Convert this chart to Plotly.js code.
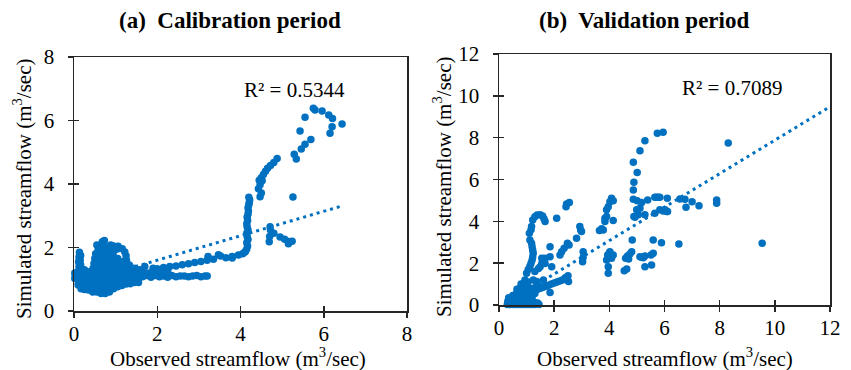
<!DOCTYPE html>
<html><head><meta charset="utf-8">
<script src="https://cdn.plot.ly/plotly-3.0.1.min.js"></script>
<style>body{margin:0;background:#fff}#chart{width:851px;height:370px}</style>
</head><body><div id="chart"></div>
<script>
// ---------- DATA ----------
const panelTitles = ['(a)\u00a0 Calibration period', '(b)\u00a0 Validation period'];
const xAxisTitle = 'Observed streamflow (m<sup>3</sup>/sec)';
const yAxisTitle = 'Simulated streamflow (m<sup>3</sup>/sec)';
const calTicks = [0, 2, 4, 6, 8];
const valTicks = [0, 2, 4, 6, 8, 10, 12];
const calR2 = 'R² = 0.5344';
const valR2 = 'R² = 0.7089';
const calSlope = 0.385, calIntercept = 0.83;
const valSlope = 0.80, valIntercept = -0.12;
const valTrendEnd = 12;

const calObserved = [
 0.02,0.03,0.02,
 0.1,0.11,0.09,0.1,0.12,0.11,0.12,0.13,
 0.17,0.16,0.18,0.15,0.17,0.16,0.15,0.16,
 0.25,0.26,0.24,0.27,0.25,
 0.35,0.36,0.34,0.35,0.37,
 0.45,0.46,0.44,0.45,0.47,0.46,0.48,0.5,0.52,
 0.55,0.56,0.54,0.55,0.57,0.56,0.55,0.56,0.57,0.58,0.55,
 0.65,0.66,0.64,0.65,0.67,0.66,0.65,0.64,0.66,0.65,0.67,0.68,
 0.75,0.76,0.74,0.75,0.77,0.76,0.75,0.74,0.76,0.75,0.72,0.73,
 0.85,0.86,0.84,0.85,0.87,0.86,0.85,0.84,0.86,0.85,0.88,
 0.95,0.96,0.94,0.95,0.97,0.96,0.95,0.94,0.96,0.95,
 1.05,1.06,1.04,1.05,1.07,1.06,1.05,1.04,1.06,
 1.15,1.16,1.14,1.15,1.17,1.16,1.16,
 1.25,1.26,1.24,1.25,1.27,1.26,1.25,1.22,
 1.35,1.36,1.34,1.35,1.33,
 1.45,1.46,1.44,1.45,
 1.55,1.56,1.54,1.58,
 1.65,1.75,1.85,1.95,2.05,2.15,2.25,2.35,2.45,2.55,2.65,2.75,2.85,2.95,3.05,3.15,3.2,
 1.65,1.8,1.95,2.1,2.25,1.7,1.9,
 2.0,2.15,2.3,2.45,2.6,2.75,2.9,3.05,3.2,3.22,3.35,3.47,3.52,3.65,3.8,3.8,3.95,4.05,4.1,
 4.12,4.15,4.17,4.15,4.18,4.16,4.15,4.18,4.16,4.15,4.17,4.16,4.18,4.19,4.18,4.2,4.21,4.22,4.2,
 4.47,4.5,4.43,4.47,4.52,4.45,4.5,4.55,4.6,4.65,4.72,4.8,4.88,
 5.26,
 4.71,4.69,4.72,4.8,4.95,5.06,5.17,5.15,5.24,4.7,
 5.29,5.34,5.46,5.55,5.69,5.43,5.55,5.79,5.75,5.96,6.12,6.21,6.44,6.2,6.15
];
const calSimulated = [
 1.02,1.12,1.2,
 0.82,0.95,1.08,1.25,1.4,1.55,1.7,1.85,
 0.7,0.84,1.0,1.15,1.3,1.45,1.6,1.75,
 0.68,0.85,1.0,1.14,1.3,
 0.66,0.8,0.96,1.1,1.24,
 0.6,0.75,0.9,1.05,1.2,1.35,1.5,1.65,1.8,
 0.6,0.74,0.9,1.05,1.2,1.35,1.5,1.65,1.8,1.95,2.08,
 0.55,0.7,0.85,1.0,1.15,1.3,1.45,1.6,1.75,1.9,2.05,2.18,
 0.55,0.7,0.85,1.0,1.15,1.3,1.45,1.6,1.75,1.9,2.05,2.22,
 0.6,0.75,0.9,1.05,1.2,1.35,1.5,1.65,1.8,1.95,2.08,
 0.7,0.85,1.0,1.15,1.3,1.45,1.6,1.75,1.9,2.05,
 0.76,0.9,1.05,1.2,1.35,1.5,1.65,1.95,2.04,
 0.8,0.95,1.1,1.25,1.4,1.55,1.96,
 0.85,1.0,1.15,1.3,1.45,1.6,1.74,1.86,
 0.86,1.0,1.15,1.3,1.45,
 0.9,1.05,1.2,1.35,
 0.9,1.05,1.2,1.3,
 1.08,1.12,1.06,1.12,1.08,1.1,1.06,1.12,1.08,1.1,1.1,1.08,1.1,1.12,1.08,1.1,1.1,
 1.25,1.2,1.22,1.25,1.28,1.4,1.35,
 1.33,1.37,1.4,1.42,1.46,1.49,1.53,1.56,1.6,1.72,1.63,1.77,1.73,1.68,1.72,1.67,1.76,1.8,1.85,
 1.88,1.95,2.05,2.15,2.25,2.35,2.45,2.55,2.65,2.75,2.85,2.95,3.05,3.15,3.25,3.35,3.42,3.5,3.58,
 3.6,3.72,3.85,3.98,4.1,4.12,4.2,4.3,4.4,4.5,4.58,4.68,4.8,
 3.59,
 2.65,2.18,2.55,2.45,2.33,2.26,2.19,2.12,2.2,2.35,
 4.94,4.79,5.1,5.25,5.4,5.67,6.1,6.33,6.39,6.3,6.17,6.06,5.89,5.8,5.6
];

const valObserved = [
 0.3,0.35,0.4,0.45,0.5,0.55,0.6,0.65,0.7,0.75,0.8,0.85,0.9,0.95,1.0,1.05,1.1,1.15,1.2,1.25,1.3,1.35,1.4,1.45,
 0.32,0.4,0.5,0.6,0.7,0.8,0.9,1.0,1.1,1.2,1.3,1.4,
 0.35,0.45,0.55,0.65,0.75,0.85,0.95,1.05,
 0.5,0.6,0.7,0.8,0.9,0.65,0.75,0.85,0.95,0.8,0.9,1.0,1.1,
 1.0,1.1,1.2,1.3,1.15,1.25,1.35,1.05,
 0.94,1.0,1.06,1.12,1.16,1.2,1.22,1.24,1.22,1.2,1.18,1.12,1.1,1.16,1.18,1.22,1.3,1.38,1.49,1.58,1.63,1.67,
 1.3,1.4,1.5,1.6,1.7,1.8,1.9,2.0,2.1,2.2,2.3,2.4,2.5,2.52,2.45,1.85,1.49,1.24,1.61,1.37,
 1.43,1.49,1.55,1.67,1.55,1.67,1.85,1.85,1.91,2.09,2.21,2.27,2.36,2.48,2.54,2.81,2.93,2.99,2.96,3.05,3.05,3.03,2.43,2.45,2.55,1.3,
 3.64,3.78,3.72,3.84,3.84,3.9,3.9,3.96,4.08,4.14,4.02,4.14,3.9,3.96,3.96,4.02,4.08,4.14,3.94,4.0,
 4.54,4.63,4.59,4.66,4.81,4.83,5.11,5.23,5.29,5.51,5.59,5.29,5.53,5.59,5.89,6.52,9.54,4.75,5.17,4.7,
 5.95,5.74,5.29,5.11,8.31,4.87,5.01,4.89,4.87,4.87,5.01,5.17,5.39,5.65,5.77,6.1,6.56,6.74,7.0,7.25,7.89,7.89,6.78,4.99,5.11,4.89,5.29,5.65,5.83,5.95,6.11,5.05,4.93,6.02,5.71,5.83,6.08
];
const valSimulated = [
 0.03,0.05,0.02,0.04,0.03,0.05,0.02,0.04,0.03,0.05,0.02,0.04,0.03,0.05,0.02,0.04,0.03,0.05,0.02,0.04,0.03,0.05,0.04,0.03,
 0.18,0.15,0.15,0.18,0.15,0.12,0.15,0.12,0.15,0.1,0.12,0.1,
 0.35,0.3,0.3,0.28,0.3,0.35,0.3,0.25,
 0.45,0.5,0.55,0.6,0.5,0.75,0.8,0.85,0.9,1.0,1.05,0.7,0.6,
 0.4,0.5,0.35,0.55,0.8,0.75,0.9,1.1,
 1.2,1.52,1.7,1.85,2.0,2.15,2.3,2.47,2.63,2.79,2.95,3.11,3.43,3.6,3.75,4.07,4.22,4.3,4.31,4.25,4.12,3.99,
 0.7,0.75,0.8,0.85,0.9,0.95,1.0,1.05,1.1,1.15,1.2,1.3,1.4,1.12,1.25,0.6,0.88,1.2,1.2,1.12,
 1.75,1.83,1.99,1.99,2.23,2.23,2.31,2.79,1.83,4.15,2.39,2.55,2.71,2.95,2.87,3.19,3.75,3.51,3.59,2.55,2.28,2.07,4.7,4.83,4.9,1.6,
 3.56,3.59,3.65,3.99,4.15,4.23,4.55,4.7,5.1,4.99,4.94,4.04,2.15,1.83,1.52,2.55,2.23,2.39,2.39,2.47,
 1.64,1.72,2.23,2.34,2.55,3.11,2.31,2.26,2.34,2.39,2.47,1.83,1.91,3.11,2.98,2.92,2.95,2.45,2.28,2.2,
 8.26,8.21,7.85,7.37,7.74,6.83,6.33,5.87,5.5,5.06,4.99,4.9,5.02,5.15,5.15,5.1,5.07,5.06,4.94,4.75,5.02,4.86,4.67,4.55,4.63,4.23,4.31,4.39,4.55,4.5,4.47,4.31,4.2,4.55,5.15,5.15,4.47
];

// ---------- CHART ----------
const blue = '#0070C0';
const axisColor = '#262626';
const serif = '"Liberation Serif", "Times New Roman", serif';

const calMin = Math.min(...calObserved), calMax = Math.max(...calObserved);
const valMin = Math.min(...valObserved);
const calTrendX = [calMin, calMax];
const valTrendX = [valMin, valTrendEnd];

const traces = [
  {type:'scatter', mode:'markers', x:calObserved, y:calSimulated, xaxis:'x', yaxis:'y',
   marker:{color:blue, size:7.5}, cliponaxis:false, hoverinfo:'x+y'},
  {type:'scatter', mode:'lines', x:calTrendX, y:calTrendX.map(v => calIntercept + calSlope*v),
   xaxis:'x', yaxis:'y', line:{color:blue, width:3, dash:'3px,4px'}},
  {type:'scatter', mode:'markers', x:valObserved, y:valSimulated, xaxis:'x2', yaxis:'y2',
   marker:{color:blue, size:7.5}, cliponaxis:false, hoverinfo:'x+y'},
  {type:'scatter', mode:'lines', x:valTrendX, y:valTrendX.map(v => valIntercept + valSlope*v),
   xaxis:'x2', yaxis:'y2', line:{color:blue, width:3, dash:'3px,4px'}},
  {type:'scatter', mode:'markers', x:[null], y:[null], xaxis:'x3', yaxis:'y3', showlegend:false, hoverinfo:'skip'},
  {type:'scatter', mode:'markers', x:[null], y:[null], xaxis:'x4', yaxis:'y4', showlegend:false, hoverinfo:'skip'}
];

function mainAxis(extra){
  return Object.assign({
    showline:true, mirror:true, linecolor:axisColor, linewidth:1.5,
    ticks:'outside', ticklen:5, tickwidth:1.5, tickcolor:axisColor,
    showgrid:false, zeroline:false, tickfont:{size:21, family:serif, color:'#000'},
    fixedrange:true
  }, extra);
}
function innerTicks(extra){
  return Object.assign({
    showline:false, ticks:'inside', ticklen:5, tickwidth:1.5, tickcolor:axisColor,
    showticklabels:false, showgrid:false, zeroline:false, fixedrange:true
  }, extra);
}
const titleFont = {size:21, family:serif, color:'#000'};
const panelFont = {size:23, family:serif, color:'#000'};

const layout = {
  width:851, height:370,
  margin:{l:74, r:21, t:54, b:59, pad:0},
  paper_bgcolor:'#ffffff', plot_bgcolor:'rgba(0,0,0,0)',
  font:{family:serif, size:18, color:'#000'},
  showlegend:false,
  xaxis: mainAxis({domain:[0,0.4405], anchor:'y', range:[0,8], tickvals:calTicks, ticklabelstandoff:-2}),
  yaxis: mainAxis({domain:[0,0.9883], anchor:'x', range:[0,8], tickvals:calTicks, ticklabelstandoff:9}),
  xaxis2: mainAxis({domain:[0.5622,1], anchor:'y2', range:[0,12], tickvals:valTicks, ticklabelstandoff:-2}),
  yaxis2: mainAxis({domain:[0.0233,1], anchor:'x2', range:[0,12], tickvals:valTicks, ticklabelstandoff:9}),
  xaxis3: innerTicks({overlaying:'x', anchor:'y3', range:[0,8], tickvals:calTicks}),
  yaxis3: innerTicks({overlaying:'y', anchor:'x3', range:[0,8], tickvals:calTicks}),
  xaxis4: innerTicks({overlaying:'x2', anchor:'y4', range:[0,12], tickvals:valTicks}),
  yaxis4: innerTicks({overlaying:'y2', anchor:'x4', range:[0,12], tickvals:valTicks}),
  annotations:[
    {xref:'paper', yref:'paper', x:0.2063, y:1.132, xanchor:'center', yanchor:'middle',
     text:'<b>'+panelTitles[0]+'</b>', showarrow:false, font:panelFont},
    {xref:'paper', yref:'paper', x:0.754, y:1.132, xanchor:'center', yanchor:'middle',
     text:'<b>'+panelTitles[1]+'</b>', showarrow:false, font:panelFont},
    {xref:'paper', yref:'paper', x:0.2169, y:-0.179, xanchor:'center', yanchor:'middle',
     text:xAxisTitle, showarrow:false, font:titleFont},
    {xref:'paper', yref:'paper', x:0.7817, y:-0.179, xanchor:'center', yanchor:'middle',
     text:xAxisTitle, showarrow:false, font:titleFont},
    {xref:'paper', yref:'paper', x:-0.0688, y:0.4747, xanchor:'center', yanchor:'middle', textangle:-90,
     text:yAxisTitle, showarrow:false, font:titleFont},
    {xref:'paper', yref:'paper', x:0.4881, y:0.4825, xanchor:'center', yanchor:'middle', textangle:-90,
     text:yAxisTitle, showarrow:false, font:titleFont},
    {xref:'x', yref:'y', x:5.29, y:6.96, xanchor:'center', yanchor:'middle',
     text:calR2, showarrow:false, font:{size:21, family:serif, color:'#000'}},
    {xref:'x2', yref:'y2', x:8.44, y:10.38, xanchor:'center', yanchor:'middle',
     text:valR2, showarrow:false, font:{size:21, family:serif, color:'#000'}}
  ]
};

Plotly.newPlot('chart', traces, layout, {staticPlot:true, displayModeBar:false});
</script></body></html>
